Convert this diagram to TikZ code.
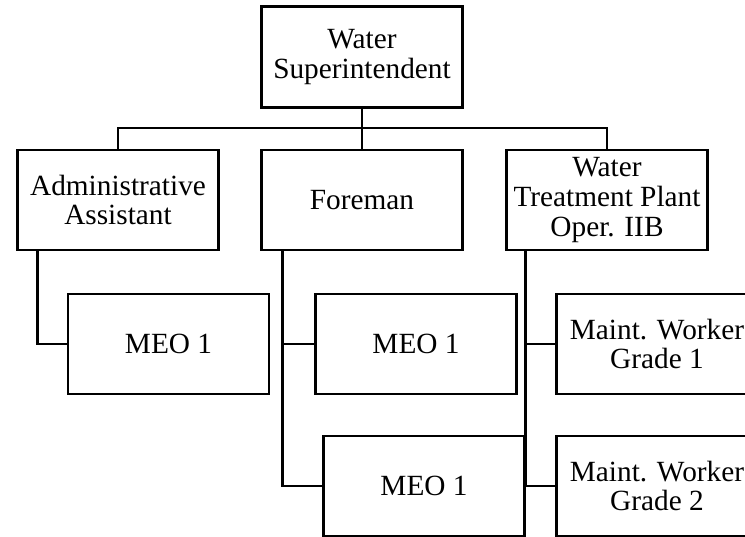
\documentclass[tikz,border=0pt]{standalone}
\usepackage{fontspec}
\setmainfont{Liberation Serif}
\begin{document}
\begin{tikzpicture}[x=1pt,y=-1pt,
  box/.style={draw,line width=2.5pt,minimum width=201pt,minimum height=100pt,inner sep=0pt,align=center,
    font=\fontsize{29.3}{29.8}\selectfont},
  conn/.style={line width=2.5pt}]
\clip (0,0) rectangle (745,537);
\node[box,minimum height=101pt] (top) at (362,57) {Water\\Superintendent};
\node[box] (admin) at (118,200) {Administrative\\Assistant};
\node[box] (fore) at (362,200) {Foreman};
\node[box] (wtp) at (607,200) {Water\\Treatment Plant\\Oper. IIB};
\node[box] (meoa) at (168.5,344) {MEO 1};
\node[box] (meob) at (416,344) {MEO 1};
\node[box] (meoc) at (424,486) {MEO 1};
\node[box] (mw1) at (657,344) {Maint. Worker\\Grade 1};
\node[box] (mw2) at (657,486) {Maint. Worker\\Grade 2};
\coordinate (bus) at (362,128);
\draw[conn] (top.south) -- (fore.north);
\draw[conn] (admin.north) |- (bus) -| (wtp.north);
\coordinate (al) at ([xshift=21pt]admin.south west);
\coordinate (fl) at ([xshift=22pt]fore.south west);
\coordinate (wl) at ([xshift=20pt]wtp.south west);
\draw[conn] (al) |- (meoa.west);
\draw[conn] (fl) |- (meoc.west);
\draw[conn] (meob.west) -- (meob.west -| fl);
\draw[conn] (wl) |- (mw2.west);
\draw[conn] (mw1.west) -- (mw1.west -| wl);
\end{tikzpicture}
\end{document}
